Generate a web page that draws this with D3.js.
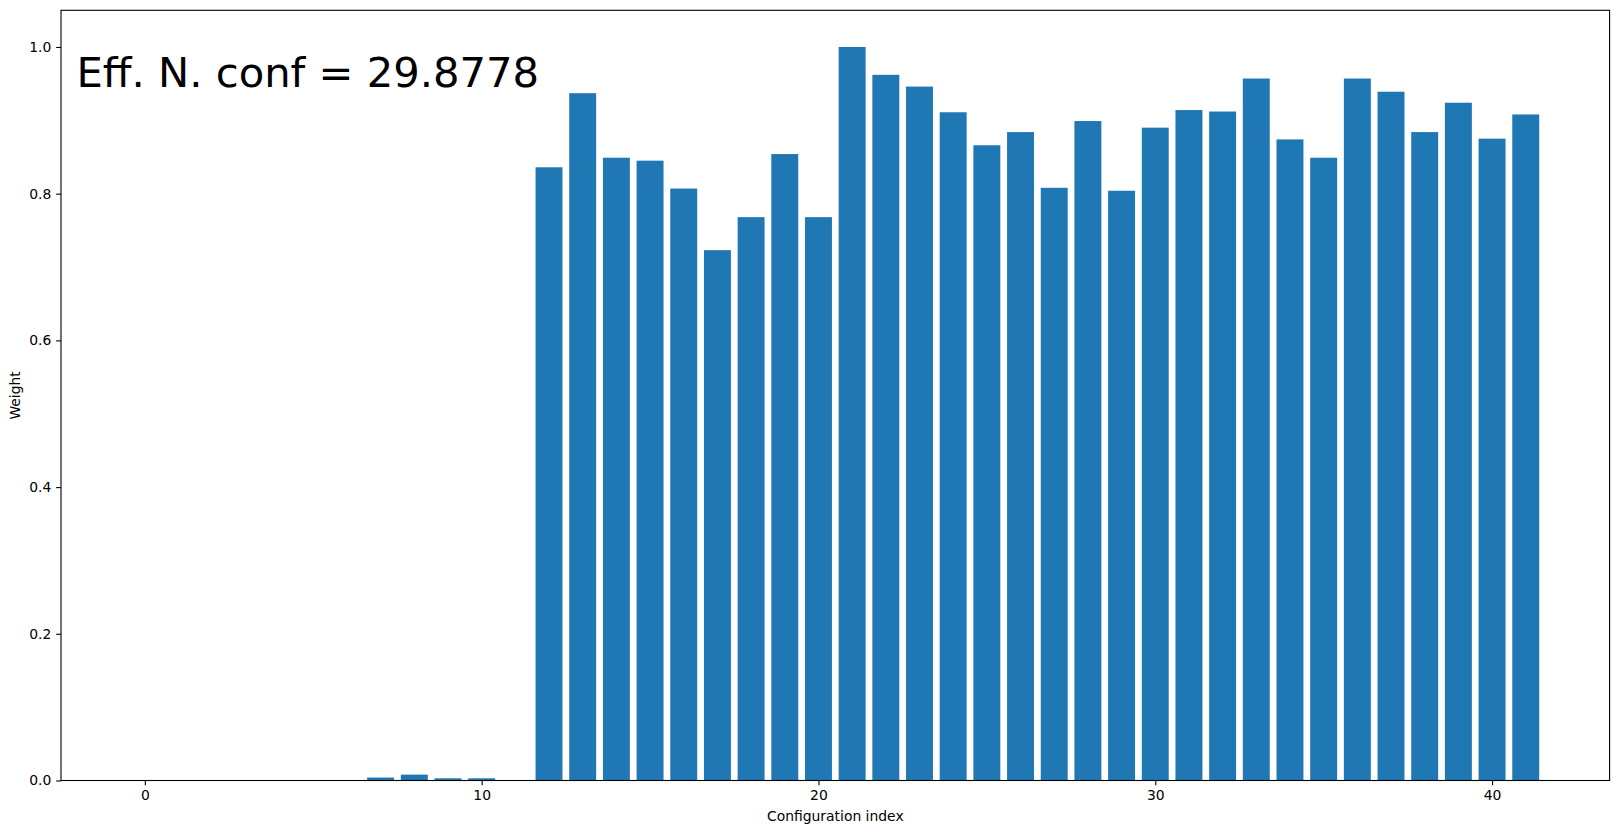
<!DOCTYPE html>
<html>
<head>
<meta charset="utf-8">
<script src="https://cdn.jsdelivr.net/npm/d3@7"></script>
<style>
  html, body { margin: 0; padding: 0; background: #fff; }
  svg { display: block; font-family: "DejaVu Sans", sans-serif; }
</style>
</head>
<body>
<svg id="chart" width="1621" height="833"></svg>
<script>
// ---- data ----
const configIndex = d3.range(0, 42);
const weights = [
  0, 0, 0, 0, 0, 0, 0, 0.004, 0.008, 0.003,
  0.003, 0, 0.836, 0.937, 0.849, 0.845, 0.807, 0.723, 0.768, 0.854,
  0.768, 1.0, 0.962, 0.946, 0.911, 0.866, 0.884, 0.808, 0.899, 0.804,
  0.890, 0.914, 0.912, 0.957, 0.874, 0.849, 0.957, 0.939, 0.884, 0.924,
  0.875, 0.908
];
const xTicks = [0, 10, 20, 30, 40];
const yTicks = [0.0, 0.2, 0.4, 0.6, 0.8, 1.0];
const annotation = "Eff. N. conf = 29.8778";
const xLabel = "Configuration index";
const yLabel = "Weight";
const barWidth = 0.8;

// ---- layout ----
const svg = d3.select("#chart");
const L = 61, R = 1609.6, T = 10.3, B = 780.5;
const n = configIndex.length;
const dataMin = configIndex[0] - barWidth / 2, dataMax = configIndex[n - 1] + barWidth / 2;
const pad = (dataMax - dataMin) * 0.05;
const x = d3.scaleLinear().domain([dataMin - pad, dataMax + pad]).range([L, R]);
const yMax = d3.max(weights) * 1.05;
const y = d3.scaleLinear().domain([0, yMax]).range([B, T]);

const color = "#1f77b4";

// bars
svg.append("g").selectAll("rect")
  .data(configIndex)
  .join("rect")
  .attr("x", i => x(i - barWidth / 2))
  .attr("width", i => x(i + barWidth / 2) - x(i - barWidth / 2))
  .attr("y", i => y(weights[i]))
  .attr("height", i => y(0) - y(weights[i]))
  .attr("fill", color);

// axes
const tickLen = 4.86, tickPad = 4.86;
const xAxis = d3.axisBottom(x).tickValues(xTicks).tickFormat(d3.format("d"))
  .tickSizeInner(tickLen).tickSizeOuter(0).tickPadding(tickPad);
const yAxis = d3.axisLeft(y).tickValues(yTicks).tickFormat(d3.format(".1f"))
  .tickSizeInner(tickLen).tickSizeOuter(0).tickPadding(tickPad);

const gx = svg.append("g").attr("transform", `translate(0,${B})`).call(xAxis);
const gy = svg.append("g").attr("transform", `translate(${L},0)`).call(yAxis);
[gx, gy].forEach(g => {
  g.select(".domain").remove();
  g.selectAll(".tick line").attr("stroke", "#000").attr("stroke-width", 1.1);
  g.selectAll(".tick text").attr("fill", "#000").style("font-size", "13.9px")
    .style("font-family", "DejaVu Sans");
});

// frame (spines)
svg.append("rect")
  .attr("x", L).attr("y", T).attr("width", R - L).attr("height", B - T)
  .attr("fill", "none").attr("stroke", "#000").attr("stroke-width", 1.1);

// labels
svg.append("text")
  .attr("x", (L + R) / 2).attr("y", 821)
  .attr("text-anchor", "middle")
  .style("font-size", "13.9px").attr("fill", "#000")
  .text(xLabel);

svg.append("text")
  .attr("transform", `translate(20,${(T + B) / 2}) rotate(-90)`)
  .attr("text-anchor", "middle")
  .style("font-size", "13.9px").attr("fill", "#000")
  .text(yLabel);

// annotation
svg.append("text")
  .attr("x", L + 0.01 * (R - L)).attr("y", B - 0.9 * (B - T))
  .style("font-size", "41.7px").attr("fill", "#000")
  .text(annotation);
</script>
</body>
</html>
